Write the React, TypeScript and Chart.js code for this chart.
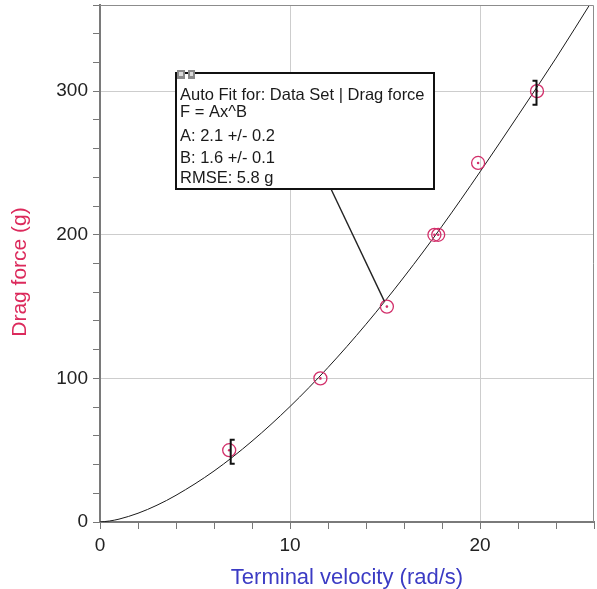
import React, { useEffect, useRef } from 'react';
import { Chart, registerables } from 'chart.js';

Chart.register(...registerables);

// Measured data (terminal velocity in rad/s, drag force in g)
const velocity = [6.8, 11.6, 15.1, 17.6, 17.8, 19.9, 23.0];
const dragForce = [50, 100, 150, 200, 200, 250, 300];

// Fit curve
const fitX = [0, 0.5, 1, 2, 3, 4, 6, 8, 10, 12, 14, 16, 18, 20, 22, 24, 26];
const fitY = [0, 0.7, 2.0, 6.1, 11.7, 18.6, 35.5, 56.3, 80.4, 107.6, 137.7, 170.6, 206.0, 243.8, 283.0, 323.0, 365.0];

// Fit range (indexes of first and last fitted points) and callout target
const fitRangeIdx = [0, 6];
const calloutIdx = 2;

const calloutLines = [
  'Auto Fit for: Data Set | Drag force',
  'F = Ax^B',
  'A: 2.1 +/- 0.2',
  'B: 1.6 +/- 0.1',
  'RMSE: 5.8 g',
];

const X_TITLE = 'Terminal velocity (rad/s)';
const Y_TITLE = 'Drag force (g)';

const FONT = 'Arial, "Liberation Sans", sans-serif';
const POINT_COLOR = '#d22f6a';
const Y_TITLE_COLOR = '#dc2a5c';

const overlayPlugin = {
  id: 'overlay',
  afterDraw(chart: any) {
    const { ctx } = chart;
    ctx.save();
    ctx.translate(20, 272);
    ctx.rotate(-Math.PI / 2);
    ctx.fillStyle = Y_TITLE_COLOR;
    ctx.font = `21px ${FONT}`;
    ctx.textAlign = 'center';
    ctx.textBaseline = 'middle';
    ctx.fillText(Y_TITLE, 0, 0);
    ctx.restore();
  },
  afterDatasetsDraw(chart: any) {
    const { ctx, chartArea, scales } = chart;
    const xs = scales.x;
    const ys = scales.y;
    ctx.save();
    // top and right frame
    ctx.strokeStyle = '#8c8c8c';
    ctx.lineWidth = 1;
    ctx.beginPath();
    ctx.moveTo(chartArea.left, chartArea.top + 0.5);
    ctx.lineTo(chartArea.right - 0.5, chartArea.top + 0.5);
    ctx.lineTo(chartArea.right - 0.5, chartArea.bottom);
    ctx.stroke();

    // fit range brackets
    ctx.strokeStyle = '#111';
    ctx.lineWidth = 2;
    fitRangeIdx.forEach((idx, k) => {
      const px = xs.getPixelForValue(velocity[idx]) + (k === 0 ? 1.5 : -0.5);
      const py = ys.getPixelForValue(dragForce[idx]) + 1.5;
      const dir = k === 0 ? 1 : -1;
      const h = 12;
      ctx.beginPath();
      ctx.moveTo(px + dir * 4, py - h);
      ctx.lineTo(px, py - h);
      ctx.lineTo(px, py + h);
      ctx.lineTo(px + dir * 4, py + h);
      ctx.stroke();
    });

    // callout box
    const bx = 176, by = 73, bw = 258, bh = 116;
    const tx = xs.getPixelForValue(velocity[calloutIdx]);
    const ty = ys.getPixelForValue(dragForce[calloutIdx]);
    const sx = 331, sy = by + bh;
    const dx = tx - sx, dy = ty - sy;
    const len = Math.sqrt(dx * dx + dy * dy);
    const ex = tx - (dx / len) * 6, ey = ty - (dy / len) * 6;
    ctx.strokeStyle = '#222';
    ctx.lineWidth = 1.4;
    ctx.beginPath();
    ctx.moveTo(sx, sy);
    ctx.lineTo(ex, ey);
    ctx.stroke();

    ctx.fillStyle = '#ffffff';
    ctx.fillRect(bx, by, bw, bh);
    ctx.strokeStyle = '#111';
    ctx.lineWidth = 2;
    ctx.strokeRect(bx, by, bw, bh);

    // small icons
    ctx.fillStyle = '#8a8a8a';
    ctx.fillRect(bx + 1, by - 3, 8, 9);
    ctx.fillRect(bx + 12, by - 3, 7, 9);
    ctx.fillStyle = '#dcdcdc';
    ctx.fillRect(bx + 3, by - 1, 4, 4);
    ctx.fillRect(bx + 14, by - 1, 3, 4);

    ctx.fillStyle = '#1a1a1a';
    ctx.font = `16.5px ${FONT}`;
    ctx.textBaseline = 'middle';
    ctx.textAlign = 'left';
    const offs = [22.5, 39, 63, 85.5, 105];
    calloutLines.forEach((t, i) => {
      ctx.fillText(t, bx + 4, by + offs[i]);
    });
    ctx.restore();
  },
};

const zeroPad = (s: any) => {
  s.paddingTop = 0;
  s.paddingBottom = 0;
  s.paddingLeft = 0;
  s.paddingRight = 0;
};

export default function App() {
  const ref = useRef<HTMLCanvasElement | null>(null);

  useEffect(() => {
    if (!ref.current) return;
    const points = velocity.map((v, i) => ({ x: v, y: dragForce[i] }));
    const curve = fitX.map((v, i) => ({ x: v, y: fitY[i] }));
    const chart = new Chart(ref.current, {
      type: 'scatter',
      data: {
        datasets: [
          {
            label: 'Data Set',
            data: points,
            pointStyle: 'circle',
            pointRadius: 6.5,
            pointBorderWidth: 1.3,
            borderColor: POINT_COLOR,
            backgroundColor: 'rgba(0,0,0,0)',
            showLine: false,
          },
          {
            label: 'dots',
            data: points,
            pointRadius: 1.3,
            pointBorderWidth: 0,
            borderColor: POINT_COLOR,
            backgroundColor: POINT_COLOR,
            showLine: false,
          },
          {
            label: 'Fit',
            data: curve,
            showLine: true,
            pointRadius: 0,
            borderColor: '#1a1a1a',
            borderWidth: 1,
            cubicInterpolationMode: 'monotone',
            fill: false,
          },
        ],
      },
      options: {
        animation: false,
        responsive: false,
        maintainAspectRatio: false,
        layout: { autoPadding: false, padding: { top: 5, right: 3, left: 0, bottom: 0 } },
        plugins: {
          legend: { display: false },
          tooltip: { enabled: false },
        },
        scales: {
          x: {
            type: 'linear',
            min: 0,
            max: 26,
            afterFit: (s: any) => { s.height = 67; zeroPad(s); },
            border: { color: '#7a7a7a', width: 2 },
            grid: {
              color: (c: any) => (c.tick && c.tick.value % 10 === 0 && c.tick.value !== 0 ? '#cdcdcd' : 'rgba(0,0,0,0)'),
              tickColor: '#777',
              tickLength: 7,
              lineWidth: 1,
            },
            ticks: {
              stepSize: 2,
              autoSkip: false,
              maxRotation: 0,
              padding: 5,
              color: '#222',
              font: { family: FONT, size: 19 },
              callback: (v: any) => (Number(v) % 10 === 0 ? String(v) : ''),
            },
            title: {
              display: true,
              text: X_TITLE,
              color: '#3b3bc4',
              font: { family: FONT, size: 22, lineHeight: 1 },
              padding: { top: 0, bottom: 0 },
            },
          },
          y: {
            type: 'linear',
            min: 0,
            max: 360,
            afterFit: (s: any) => { s.width = 100; zeroPad(s); },
            border: { color: '#7a7a7a', width: 2 },
            grid: {
              color: (c: any) => (c.tick && c.tick.value % 100 === 0 && c.tick.value !== 0 ? '#cdcdcd' : 'rgba(0,0,0,0)'),
              tickColor: '#777',
              tickLength: 7,
              lineWidth: 1,
            },
            ticks: {
              stepSize: 20,
              autoSkip: false,
              padding: 5,
              color: '#222',
              font: { family: FONT, size: 19 },
              callback: (v: any) => (Number(v) % 100 === 0 ? String(v) : ''),
            },
            title: { display: false },
          },
        },
      },
      plugins: [overlayPlugin],
    } as any);
    return () => chart.destroy();
  }, []);

  return (
    <div style={{ position: 'absolute', left: 0, top: 0, width: 597, height: 589, background: '#fff' }}>
      <canvas ref={ref} width={597} height={589} style={{ width: 597, height: 589, display: 'block' }} />
    </div>
  );
}
